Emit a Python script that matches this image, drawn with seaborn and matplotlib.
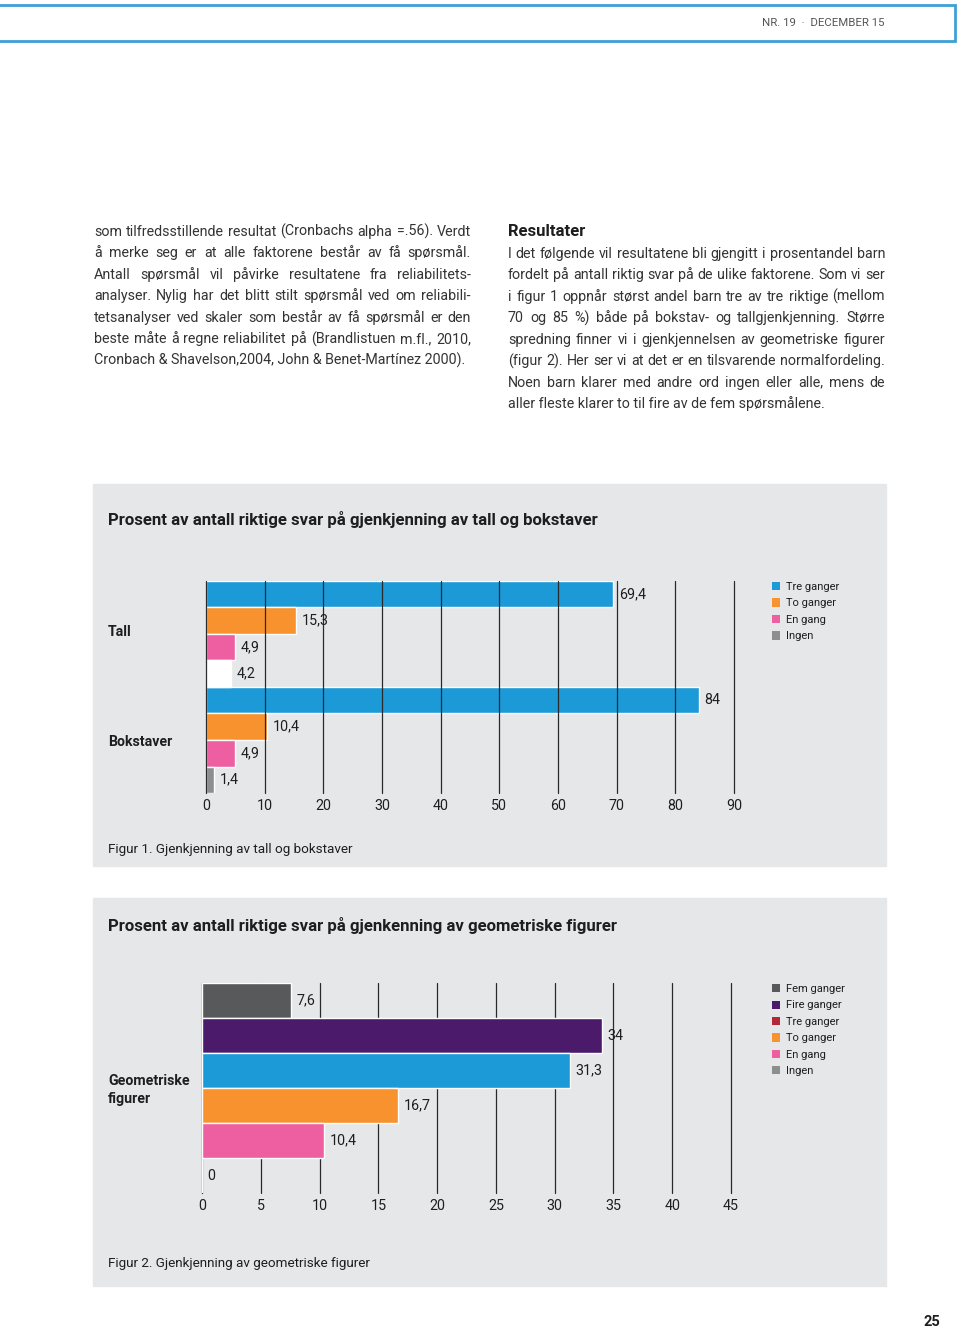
import numpy as np
import pandas as pd
import matplotlib
matplotlib.use("Agg")
import matplotlib.pyplot as plt
from matplotlib.patches import Rectangle, Patch
import seaborn as sns

# ---------------- data ----------------
kategorier1 = ["Tall", "Bokstaver"]
svar1 = ["Tre ganger", "To ganger", "En gang", "Ingen"]
tall_verdier = [69.4, 15.3, 4.9, 4.2]
bokstaver_verdier = [84, 10.4, 4.9, 1.4]
farger1 = ["#1b9ad7", "#f7922e", "#ee5fa1", "#8d8e90"]
xticks1 = [0, 10, 20, 30, 40, 50, 60, 70, 80, 90]

kategori2 = "Geometriske figurer"
svar2 = ["Fem ganger", "Fire ganger", "Tre ganger", "To ganger", "En gang", "Ingen"]
geo_verdier = [7.6, 34, 31.3, 16.7, 10.4, 0]
stolpefarger2 = ["#58595b", "#4b1a6a", "#1b9ad7", "#f7922e", "#ee5fa1", "#8d8e90"]
legendefarger2 = ["#58595b", "#4b1a6a", "#b3283a", "#f7922e", "#ee5fa1", "#8d8e90"]
xticks2 = [0, 5, 10, 15, 20, 25, 30, 35, 40, 45]

venstre_tekst = [
    "som tilfredsstillende resultat (Cronbachs alpha =.56). Verdt",
    "å merke seg er at alle faktorene består av få spørsmål.",
    "Antall spørsmål vil påvirke resultatene fra reliabilitets-",
    "analyser. Nylig har det blitt stilt spørsmål ved om reliabili-",
    "tetsanalyser ved skaler som består av få spørsmål er den",
    "beste måte å regne reliabilitet på (Brandlistuen m.fl., 2010,",
    "Cronbach & Shavelson,2004, John & Benet-Martínez 2000).",
]
hoyre_tekst = [
    "I det følgende vil resultatene bli gjengitt i prosentandel barn",
    "fordelt på antall riktig svar på de ulike faktorene. Som vi ser",
    "i figur 1 oppnår størst andel barn tre av tre riktige (mellom",
    "70 og 85 %) både på bokstav- og tallgjenkjenning. Større",
    "spredning finner vi i gjenkjennelsen av geometriske figurer",
    "(figur 2). Her ser vi at det er en tilsvarende normalfordeling.",
    "Noen barn klarer med andre ord ingen eller alle, mens de",
    "aller fleste klarer to til fire av de fem spørsmålene.",
]

# ---------------- setup ----------------
sns.set_style("white")
plt.rcParams["font.family"] = ["Roboto", "DejaVu Sans"]

W, H = 960, 1329
fig = plt.figure(figsize=(W / 100, H / 100), dpi=100)
fig.patch.set_facecolor("white")
renderer = fig.canvas.get_renderer()

TXT = "#333333"
DARK = "#1e1e1e"
PANEL = "#e6e7e8"


def fx(x):
    return x / W


def fy(y):
    return 1 - y / H


def fmt(v):
    return f"{v:g}".replace(".", ",")


# header box
fig.patches.append(Rectangle((fx(-3), fy(41)), fx(958), 36 / H, transform=fig.transFigure,
                             fill=False, edgecolor="#3d9fd6", lw=2.0, zorder=-1))
fig.text(fx(885), fy(23), "NR. 19  ·  DECEMBER 15", ha="right", va="center",
         fontsize=8.2, color="#555555")


def justified(lines, x0, x1, y0, dy, size):
    for i, line in enumerate(lines):
        yb = fy(y0 + i * dy + 4)
        if i == len(lines) - 1:
            fig.text(fx(x0), yb, line, ha="left", va="baseline", fontsize=size, color=TXT)
            continue
        words = line.split(" ")
        ts = [fig.text(0, yb, w, ha="left", va="baseline", fontsize=size, color=TXT) for w in words]
        widths = [t.get_window_extent(renderer).width for t in ts]
        gap = (x1 - x0 - sum(widths)) / (len(words) - 1)
        x = x0
        for t, w in zip(ts, widths):
            t.set_x(fx(x))
            x += w + gap


justified(venstre_tekst, 94, 471, 232, 21.45, 10.3)
fig.text(fx(508), fy(232), "Resultater", ha="left", va="center", fontsize=12,
         fontweight="bold", color=DARK)
justified(hoyre_tekst, 508, 885, 254, 21.45, 10.3)


def style_axis(ax, ticks, below):
    ax.set_xticks(ticks)
    ax.set_xticklabels([str(t) for t in ticks])
    ax.set_yticks([])
    ax.set_xlabel("")
    ax.set_ylabel("")
    ax.patch.set_visible(False)
    for s in ax.spines.values():
        s.set_visible(False)
    ax.grid(axis="x", color="#2a2a2a", lw=0.9)
    ax.set_axisbelow(below)
    ax.tick_params(axis="x", length=0, pad=4, labelsize=10.3, colors=DARK)
    for gl in ax.get_xgridlines():
        gl.set_clip_on(False)


# ---------------- panel 1 ----------------
fig.patches.append(Rectangle((fx(93), fy(866)), fx(886) - fx(93), (866 - 484) / H,
                             transform=fig.transFigure, color=PANEL, zorder=-1))
fig.text(fx(108), fy(520), "Prosent av antall riktige svar på gjenkjenning av tall og bokstaver",
         ha="left", va="center", fontsize=12.1, fontweight="bold", color=DARK)

df1 = pd.DataFrame({
    "Kategori": np.repeat(kategorier1, len(svar1)),
    "Svar": svar1 * len(kategorier1),
    "Prosent": tall_verdier + bokstaver_verdier,
})
ax1 = fig.add_axes([fx(206), fy(793), (734 - 206) / W, (793 - 581) / H])
sns.barplot(data=df1, y="Kategori", x="Prosent", hue="Svar", hue_order=svar1,
            order=kategorier1, palette=dict(zip(svar1, farger1)), width=1.0, gap=0,
            saturation=1, orient="h", legend=False, ax=ax1, err_kws={"linewidth": 0})
# the "Ingen" bar for Tall is white in the original
ax1.containers[3][0].set_facecolor("white")
for cont in ax1.containers:
    vals = [b.get_width() for b in cont]
    ax1.bar_label(cont, labels=[fmt(v) for v in vals], padding=4, fontsize=10.3, color=DARK)
ax1.set_xlim(0, 90)
ax1.set_ylim(1.5, -0.5)
style_axis(ax1, xticks1, False)

fig.text(fx(108), fy(632), "Tall", ha="left", va="center", fontsize=10.2,
         fontweight="bold", color=DARK)
fig.text(fx(108), fy(742), "Bokstaver", ha="left", va="center", fontsize=10.2,
         fontweight="bold", color=DARK)

h1 = [Patch(facecolor=c, edgecolor="none") for c in farger1]
fig.legend(h1, svar1, loc="upper left", bbox_to_anchor=(fx(772), fy(582)), frameon=False,
           fontsize=8, handlelength=0.75, handleheight=0.75, handletextpad=0.5,
           labelspacing=0.58, borderpad=0, borderaxespad=0, labelcolor=DARK)

fig.text(fx(108), fy(850), "Figur 1. Gjenkjenning av tall og bokstaver", ha="left",
         va="center", fontsize=9.7, color=DARK)

# ---------------- panel 2 ----------------
fig.patches.append(Rectangle((fx(93), fy(1286)), fx(886) - fx(93), (1286 - 898) / H,
                             transform=fig.transFigure, color=PANEL, zorder=-1))
fig.text(fx(108), fy(925), "Prosent av antall riktige svar på gjenkenning av geometriske figurer",
         ha="left", va="center", fontsize=12.1, fontweight="bold", color=DARK)

df2 = pd.DataFrame({
    "Kategori": [kategori2] * len(svar2),
    "Svar": svar2,
    "Prosent": geo_verdier,
})
ax2 = fig.add_axes([fx(202), fy(1193), (731 - 202) / W, (1193 - 983) / H])
sns.barplot(data=df2, y="Kategori", x="Prosent", hue="Svar", hue_order=svar2,
            palette=dict(zip(svar2, stolpefarger2)), width=1.0, gap=0,
            saturation=1, orient="h", legend=False, ax=ax2, err_kws={"linewidth": 0})
for cont in ax2.containers:
    vals = [b.get_width() for b in cont]
    ax2.bar_label(cont, labels=[fmt(v) for v in vals], padding=4, fontsize=10.3, color=DARK)
ax2.set_xlim(0, 45)
ax2.set_ylim(0.5, -0.5)
style_axis(ax2, xticks2, True)

fig.text(fx(108), fy(1090), "Geometriske\nfigurer", ha="left", va="center", fontsize=10.2,
         fontweight="bold", color=DARK, linespacing=1.3)

h2 = [Patch(facecolor=c, edgecolor="none") for c in legendefarger2]
fig.legend(h2, svar2, loc="upper left", bbox_to_anchor=(fx(772), fy(984)), frameon=False,
           fontsize=8, handlelength=0.75, handleheight=0.75, handletextpad=0.5,
           labelspacing=0.58, borderpad=0, borderaxespad=0, labelcolor=DARK)

fig.text(fx(108), fy(1264), "Figur 2. Gjenkjenning av geometriske figurer", ha="left",
         va="center", fontsize=9.7, color=DARK)

# page number
fig.text(fx(940), fy(1322), "25", ha="right", va="center", fontsize=10.5,
         fontweight="bold", color=DARK)

fig.savefig("out.png", dpi=100)
